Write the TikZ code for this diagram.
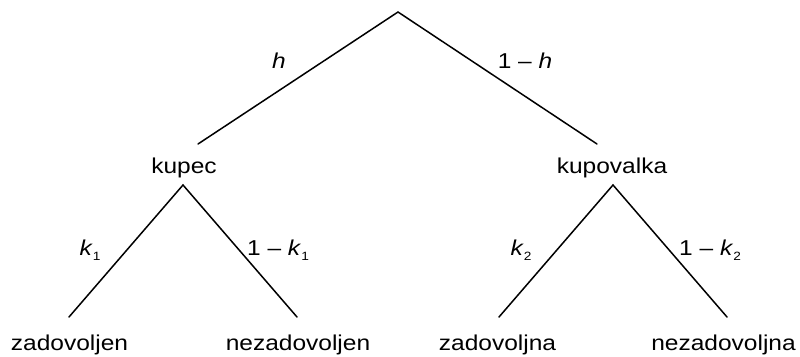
\documentclass[tikz,border=0pt]{standalone}
\usepackage{fontspec}
\setmainfont{Liberation Sans}[FakeStretch=1.14]
\newcommand\lowidx[1]{\raisebox{-0.5ex}{\fontsize{12}{12}\selectfont #1}}
\begin{document}
\begin{tikzpicture}[x=1pt,y=-1pt,
  every node/.style={inner sep=0pt,anchor=base,font=\fontsize{21.5}{24}\selectfont},
  branch/.style={line width=1.5pt,line cap=round},
  prob/.style={font=\fontsize{21.5}{24}\selectfont}]
  \useasboundingbox (0,0) rectangle (800,356);
  % branching points
  \coordinate (root) at (398,12);
  \coordinate (kupecTop) at (198,144);
  \coordinate (kupovalkaTop) at (597,144);
  \coordinate (kupecFork) at (183,185);
  \coordinate (kupovalkaFork) at (613,185);
  \coordinate (leafA) at (69,317);
  \coordinate (leafB) at (297,317);
  \coordinate (leafC) at (499,317);
  \coordinate (leafD) at (727,317);
  % first level
  \draw[branch] (kupecTop) -- (root) -- (kupovalkaTop);
  \node[prob] (h) at (279,68) {\itshape h};
  \node[prob] (notH) at (525,68) {1 – \textit{h}};
  \node (kupec) at (184,173) {kupec};
  \node (kupovalka) at (612,173) {kupovalka};
  % second level
  \draw[branch] (leafA) -- (kupecFork) -- (leafB);
  \draw[branch] (leafC) -- (kupovalkaFork) -- (leafD);
  \node[prob] (k1) at (90,255) {\textit{k}\lowidx{1}};
  \node[prob] (notK1) at (278,255) {1 – \textit{k}\lowidx{1}};
  \node[prob] (k2) at (521,255) {\textit{k}\lowidx{2}};
  \node[prob] (notK2) at (710,255) {1 – \textit{k}\lowidx{2}};
  % outcomes
  \node (zad1) at (69.5,350) {zadovoljen};
  \node (nezad1) at (298,350) {nezadovoljen};
  \node (zad2) at (497.5,350) {zadovoljna};
  \node (nezad2) at (723.5,350) {nezadovoljna};
\end{tikzpicture}
\end{document}
